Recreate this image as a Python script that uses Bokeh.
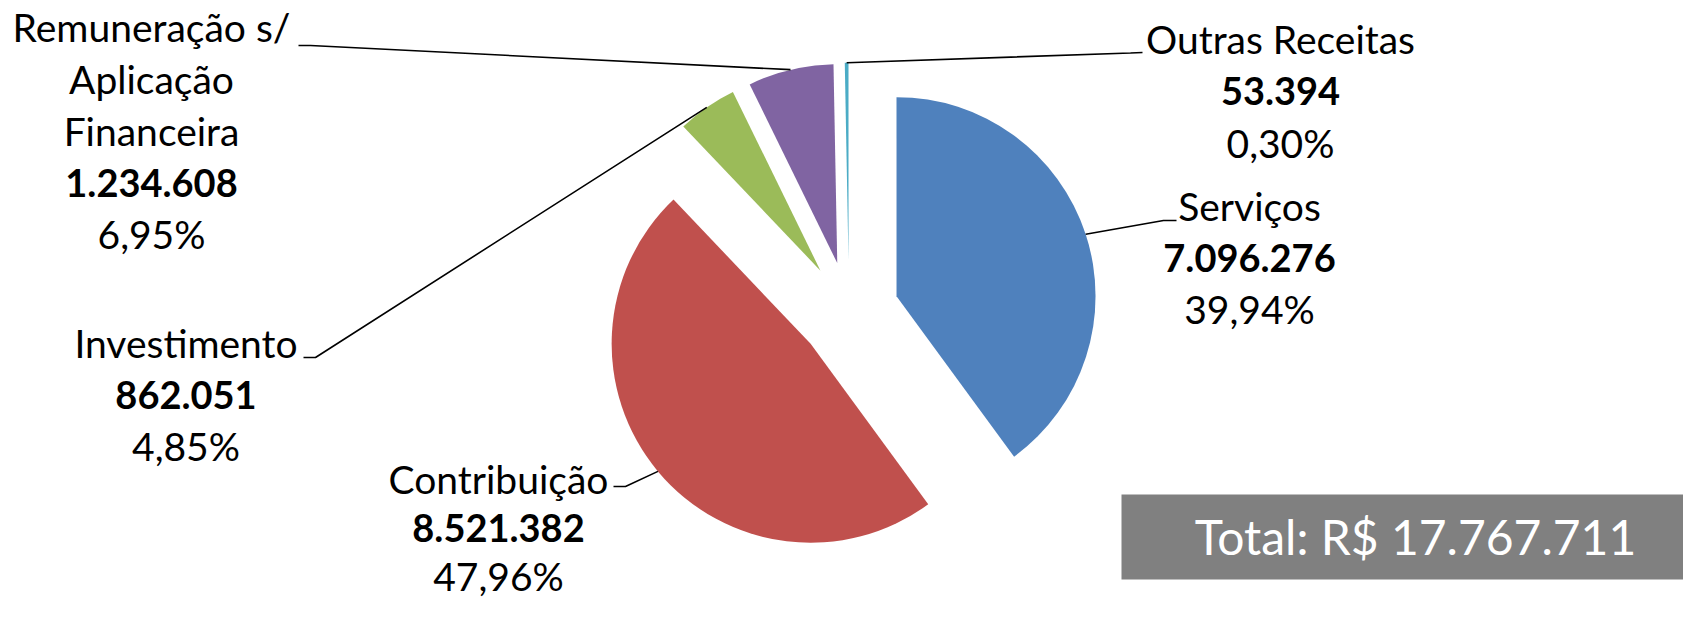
import math
from bokeh.plotting import figure
from bokeh.models import Range1d, ColumnDataSource
from bokeh.core.properties import value
from bokeh.embed import file_html
from bokeh.resources import INLINE

# ---------------- data ----------------
categories = ["Serviços", "Contribuição", "Investimento",
              "Remuneração s/ Aplicação Financeira", "Outras Receitas"]
label_lines = [["Serviços"], ["Contribuição"], ["Investimento"],
               ["Remuneração s/", "Aplicação", "Financeira"], ["Outras Receitas"]]
values = [7096276, 8521382, 862051, 1234608, 53394]
colors = ["#4F81BD", "#C0504D", "#9BBB59", "#8064A2", "#4BACC6"]
total_prefix = "Total: R$ "

# ---------------- layout (picture pixels) ----------------
W, H = 1683, 603
PAGE_H = 619
CENTER = (848.5, 311.2)
RADIUS = 199
EXPLODE = 50
label_anchor = [(1249, 220), (498, 493), (185.5, 357), (151, 41), (1280, 53)]
label_gap = [51.5, 48.5, 51.5, 51.8, 52]
leader_knee = [((1163, 220), (1176, 220)), ((625, 486), (613, 486)),
               ((315, 357), (303, 357)), ((310, 45), (298, 45)),
               ((1130, 52.5), (1142, 52))]
BOX = (1121, 1699, 494, 579)
TOTAL_POS = (1415, 554)

LABEL_FONT = "Lato"
NAME_SIZE = 39
BOLD_SIZE = 38
TOTAL_SIZE = 48
BASE_SHIFT = 0.37  # baseline correction, fraction of font size


def Y(py):
    return PAGE_H - py


def fmt_int(v):
    return f"{v:,}".replace(",", ".")


def fmt_pct(f):
    return f"{f * 100:.2f}%".replace(".", ",")


p = figure(width=W, height=H, output_backend="svg", toolbar_location=None,
           x_range=Range1d(0, W), y_range=Range1d(PAGE_H - H, PAGE_H),
           x_axis_location=None, y_axis_location=None, min_border=0,
           outline_line_color=None)
p.grid.visible = False

total = sum(values)
fracs = [v / total for v in values]

cx, cy, st, en, mids = [], [], [], [], []
cum = 0.0
ox, oy = CENTER[0], Y(CENTER[1])
for f in fracs:
    a, b = cum, cum + f
    th1 = math.pi / 2 - 2 * math.pi * b
    th2 = math.pi / 2 - 2 * math.pi * a
    mid = (th1 + th2) / 2
    cx.append(ox + EXPLODE * math.cos(mid))
    cy.append(oy + EXPLODE * math.sin(mid))
    st.append(th1)
    en.append(th2)
    mids.append(mid)
    cum = b

src = ColumnDataSource(dict(cx=cx, cy=cy, start=st, end=en, color=colors))
p.wedge(x="cx", y="cy", radius=RADIUS, start_angle="start", end_angle="end",
        fill_color="color", line_color=None, source=src)

# leader lines
xs, ys = [], []
for i in range(len(values)):
    ax = cx[i] + RADIUS * math.cos(mids[i])
    ay = cy[i] + RADIUS * math.sin(mids[i])
    (kx, ky), (ex, ey) = leader_knee[i]
    xs.append([ax, kx, ex])
    ys.append([ay, Y(ky), Y(ey)])
p.multi_line(xs=xs, ys=ys, line_color="black", line_width=1.6)

# labels
nx, ny, nt = [], [], []
bx, by, bt = [], [], []
for i in range(len(values)):
    x0, y0 = label_anchor[i]
    g = label_gap[i]
    k = 0
    for ln in label_lines[i]:
        nx.append(x0); ny.append(Y(y0 + k * g) + BASE_SHIFT * NAME_SIZE); nt.append(ln)
        k += 1
    bx.append(x0); by.append(Y(y0 + k * g) + BASE_SHIFT * BOLD_SIZE); bt.append(fmt_int(values[i]))
    k += 1
    nx.append(x0); ny.append(Y(y0 + k * g) + BASE_SHIFT * NAME_SIZE); nt.append(fmt_pct(fracs[i]))

p.text(x=nx, y=ny, text=nt, text_font=value(LABEL_FONT), text_font_size=f"{NAME_SIZE}px",
       text_align="center", text_baseline="alphabetic", text_color="black")
p.text(x=bx, y=by, text=bt, text_font=value(LABEL_FONT), text_font_size=f"{BOLD_SIZE}px",
       text_font_style="bold", text_align="center", text_baseline="alphabetic",
       text_color="black")

# total box
p.quad(left=[BOX[0]], right=[BOX[1]], top=[Y(BOX[2])], bottom=[Y(BOX[3])],
       fill_color="#808080", line_color=None)
p.text(x=[TOTAL_POS[0]], y=[Y(TOTAL_POS[1]) + BASE_SHIFT * TOTAL_SIZE],
       text=[total_prefix + fmt_int(total)],
       text_font=value(LABEL_FONT), text_font_size=f"{TOTAL_SIZE}px",
       text_align="center", text_baseline="alphabetic", text_color="white")

open("out.html", "w").write(file_html(p, INLINE))
